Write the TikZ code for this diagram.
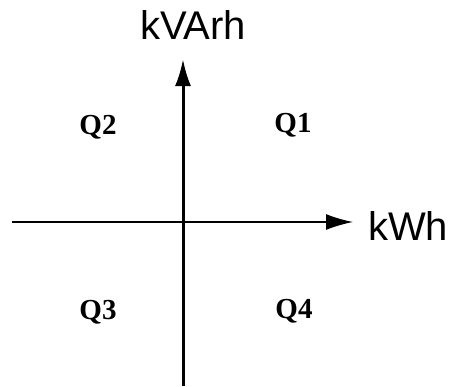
\documentclass[tikz,border=0pt]{standalone}
\usepackage{fontspec}
\setmainfont{Liberation Serif}
\setsansfont{Liberation Sans}
\usetikzlibrary{arrows.meta,positioning}

\begin{document}
\begin{tikzpicture}[
  x=1pt,y=-1pt,
  axis/.style={-{Latex[length=27pt,width=16pt]}, draw=black},
  axislabel/.style={font=\sffamily\fontsize{40}{44}\selectfont, inner sep=0pt},
  quad/.style={font=\bfseries\fontsize{29}{33}\selectfont, inner sep=0pt}
]
  \useasboundingbox (0,0) rectangle (460,386);

  % axes
  \coordinate (vbot) at (183,386);
  \coordinate (vtop) at (183,59);
  \coordinate (hleft) at (12,222);
  \coordinate (hright) at (353,222);
  \draw[axis, line width=3pt] (vbot) -- (vtop);
  \draw[axis, line width=1.5pt] (hleft) -- (hright);

  \node[axislabel] (kvarh) at (193,25) {kVArh};
  \node[axislabel] (kwh) at (408,226) {kWh};

  % quadrants
  \node[quad] (q1) at (293,125) {Q1};
  \node[quad] (q2) at (98,127) {Q2};
  \node[quad] (q3) at (98,312) {Q3};
  \node[quad] (q4) at (294,311) {Q4};
\end{tikzpicture}
\end{document}
